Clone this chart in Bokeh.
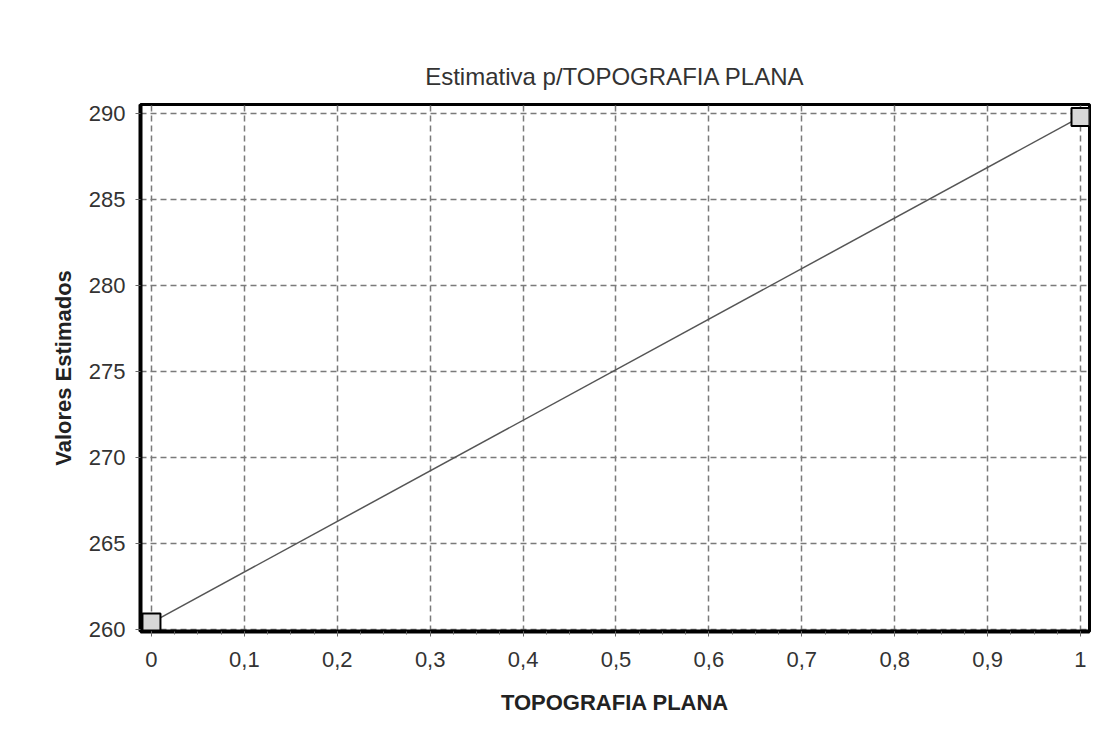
from bokeh.plotting import figure
from bokeh.models import FixedTicker, CustomJSTickFormatter, Range1d
from bokeh.embed import file_html
from bokeh.resources import INLINE

x_vals = [0.0, 1.0]
y_vals = [260.4, 289.8]
x_ticks = [0, 0.1, 0.2, 0.3, 0.4, 0.5, 0.6, 0.7, 0.8, 0.9, 1.0]
y_ticks = [260, 265, 270, 275, 280, 285, 290]

FONT = "Liberation Sans"

p = figure(width=1097, height=726, output_backend="svg", toolbar_location=None,
           x_range=Range1d(-0.0118, 1.0097), y_range=Range1d(259.88, 290.52),
           title="Estimativa p/TOPOGRAFIA PLANA",
           x_axis_label="TOPOGRAFIA PLANA", y_axis_label="Valores Estimados",
           min_border_left=140, min_border_top=104, min_border_right=8, min_border_bottom=95)

p.title.align = "center"
p.title.text_font = FONT
p.title.text_font_size = "24px"
p.title.text_font_style = "normal"
p.title.text_color = "#333333"
p.title.standoff = 30

p.outline_line_color = "black"
p.outline_line_width = 3

p.xaxis.ticker = FixedTicker(ticks=x_ticks, minor_ticks=[i / 40 for i in range(41)])
p.yaxis.ticker = FixedTicker(ticks=y_ticks)
p.xaxis.formatter = CustomJSTickFormatter(code="return (Math.round(tick*10)/10).toString().replace('.', ',');")

for ax in (p.xaxis[0], p.yaxis[0]):
    ax.axis_line_color = "black"
    ax.axis_line_width = 4
    ax.major_tick_line_color = "#666666"
    ax.major_tick_out = 5
    ax.major_tick_in = 0
    ax.minor_tick_line_color = "#666666"
    ax.minor_tick_out = 3
    ax.minor_tick_in = 0
    ax.major_label_text_font = FONT
    ax.major_label_text_font_size = "22px"
    ax.major_label_text_color = "#333333"
    ax.axis_label_text_font = FONT
    ax.axis_label_text_font_size = "22px"
    ax.axis_label_text_font_style = "bold"
    ax.axis_label_text_color = "#222222"

p.yaxis.minor_tick_line_color = None
p.xaxis.major_label_standoff = 15
p.xaxis.axis_label_standoff = 20
p.yaxis.major_label_standoff = 10
p.yaxis.axis_label_standoff = 10

p.grid.grid_line_color = "#7a7a7a"
p.grid.grid_line_dash = "6 4"
p.grid.grid_line_width = 1.5

p.line(x_vals, y_vals, line_color="#555555", line_width=1.5)
p.scatter(x_vals, y_vals, marker="square", size=18, fill_color="#d8d8d8",
          line_color="black", line_width=2)

open("out.html", "w").write(file_html(p, INLINE))
